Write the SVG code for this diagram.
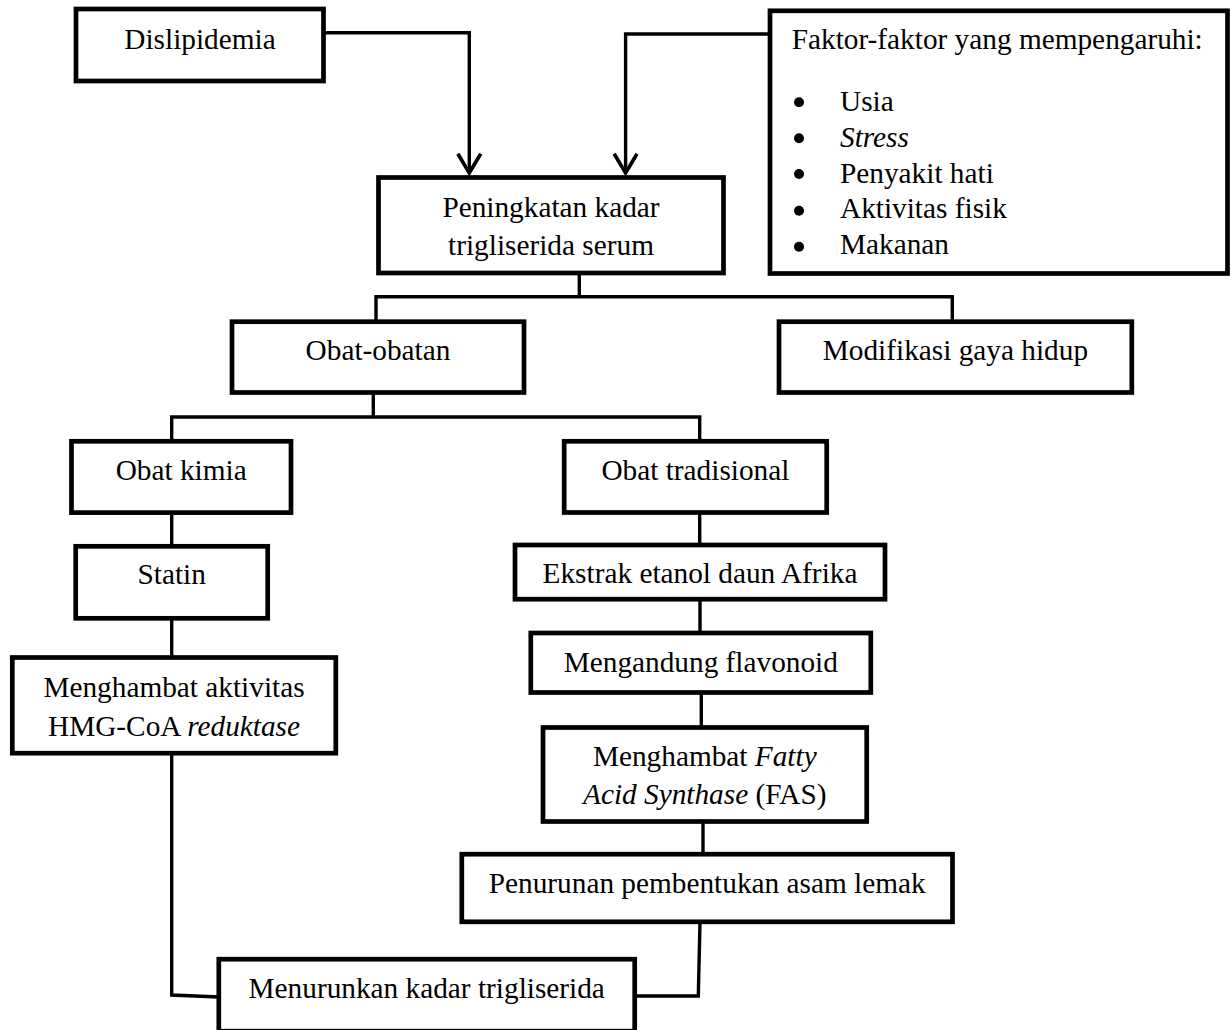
<svg xmlns="http://www.w3.org/2000/svg" width="1231" height="1030" viewBox="0 0 1231 1030">
<style>
.box{fill:#fff;stroke:#000;stroke-width:4.7}
.t{font-family:"Liberation Serif","Times New Roman",serif;font-size:29.3px;fill:#000;text-anchor:middle}
.tl{font-family:"Liberation Serif","Times New Roman",serif;font-size:29.3px;fill:#000}
.i{font-style:italic}
.c{fill:none;stroke:#000;stroke-width:3.4}
</style>
<defs>
<marker id="arr" markerUnits="userSpaceOnUse" orient="auto" refX="0" refY="0" markerWidth="30" markerHeight="30" viewBox="-20 -14 24 28" overflow="visible">
<path d="M-18,-10.7 L0,0 L-18,10.7" fill="none" stroke="#000" stroke-width="3.4"/>
</marker>
</defs>
<rect width="1231" height="1030" fill="#fff"/>
<g id="connectors">
<path class="c" d="M323.5 32.7 H469.3 V173" marker-end="url(#arr)"/>
<path class="c" d="M770 34 H625.6 V173" marker-end="url(#arr)"/>
<path class="c" d="M579.3 273 V296.7"/>
<path class="c" d="M376 321.7 V296.7 H952.3 V321.7"/>
<path class="c" d="M373.3 392.5 V417"/>
<path class="c" d="M171.7 441.3 V417 H699.7 V441.3"/>
<path class="c" d="M171.7 512.7 V546.3"/>
<path class="c" d="M171.7 618.3 V657.5"/>
<path class="c" d="M171.7 753.2 V995 L218.8 997"/>
<path class="c" d="M699.7 512.5 V545"/>
<path class="c" d="M700 599.2 V633"/>
<path class="c" d="M701.3 692.5 V727.5"/>
<path class="c" d="M703 821.5 V854.2"/>
<path class="c" d="M700 921.8 L698.3 996 H634.7"/>
</g>
<g id="dislipidemia">
<rect class="box" x="76" y="9" width="247.5" height="72"/>
<text class="t" x="200" y="49">Dislipidemia</text>
</g>
<g id="peningkatan">
<rect class="box" x="378.5" y="177.5" width="345" height="95.5"/>
<text class="t" x="551" y="216.5">Peningkatan kadar</text>
<text class="t" x="551" y="255">trigliserida serum</text>
</g>
<g id="faktor">
<rect class="box" x="770" y="10.8" width="457.5" height="262.7"/>
<text class="tl" x="791.7" y="49.3">Faktor-faktor yang mempengaruhi:</text>
<circle cx="799" cy="102.3" r="5"/>
<circle cx="799" cy="138.3" r="5"/>
<circle cx="799" cy="174" r="5"/>
<circle cx="799" cy="210.7" r="5"/>
<circle cx="799" cy="246.7" r="5"/>
<text class="tl" x="840" y="110.7">Usia</text>
<text class="tl i" x="840" y="146.7">Stress</text>
<text class="tl" x="840" y="182.7">Penyakit hati</text>
<text class="tl" x="840" y="218.3">Aktivitas fisik</text>
<text class="tl" x="840" y="254">Makanan</text>
</g>
<g id="obat-obatan">
<rect class="box" x="232" y="321.7" width="292" height="70.8"/>
<text class="t" x="378" y="360">Obat-obatan</text>
</g>
<g id="modifikasi">
<rect class="box" x="779" y="321.7" width="352.8" height="70.8"/>
<text class="t" x="955.4" y="360">Modifikasi gaya hidup</text>
</g>
<g id="obat-kimia">
<rect class="box" x="71.5" y="441.3" width="219.5" height="71.3"/>
<text class="t" x="181.2" y="480">Obat kimia</text>
</g>
<g id="obat-tradisional">
<rect class="box" x="564.2" y="441.3" width="262.5" height="71.2"/>
<text class="t" x="695.4" y="480">Obat tradisional</text>
</g>
<g id="statin">
<rect class="box" x="75.7" y="546.3" width="192" height="72"/>
<text class="t" x="171.7" y="584.3">Statin</text>
</g>
<g id="ekstrak">
<rect class="box" x="515" y="545" width="370" height="54.2"/>
<text class="t" x="700" y="583.3">Ekstrak etanol daun Afrika</text>
</g>
<g id="mengandung">
<rect class="box" x="530.8" y="633" width="340" height="59.5"/>
<text class="t" x="700.8" y="671.7">Mengandung flavonoid</text>
</g>
<g id="hmg">
<rect class="box" x="12.3" y="657.5" width="323.5" height="95.7"/>
<text class="t" x="174" y="696.7">Menghambat aktivitas</text>
<text class="t" x="174" y="736">HMG-CoA <tspan class="i">reduktase</tspan></text>
</g>
<g id="fas">
<rect class="box" x="543" y="727.5" width="323.7" height="94"/>
<text class="t" x="704.8" y="766">Menghambat <tspan class="i">Fatty</tspan></text>
<text class="t" x="704.8" y="804"><tspan class="i">Acid Synthase</tspan> (FAS)</text>
</g>
<g id="penurunan">
<rect class="box" x="461.8" y="854.2" width="490.7" height="67.6"/>
<text class="t" x="707.2" y="892.7">Penurunan pembentukan asam lemak</text>
</g>
<g id="menurunkan">
<rect class="box" x="218.8" y="959.2" width="415.9" height="72"/>
<text class="t" x="426.7" y="998.3">Menurunkan kadar trigliserida</text>
</g>
</svg>
